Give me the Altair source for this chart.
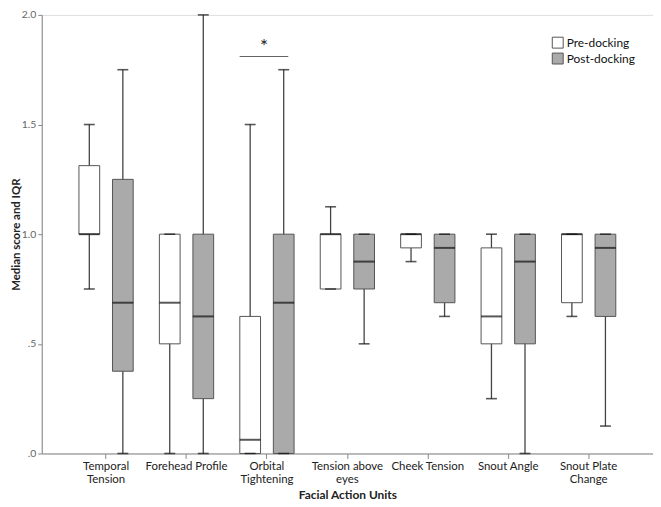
import altair as alt
import pandas as pd

categories = ["Temporal\nTension", "Forehead Profile", "Orbital\nTightening",
              "Tension above\neyes", "Cheek Tension", "Snout Angle", "Snout Plate\nChange"]
groups = ["Pre-docking", "Post-docking"]

pre_low = [0.75, 0.0, 0.0, 0.75, 0.875, 0.25, 0.625]
pre_q1 = [1.0, 0.5, 0.0, 0.75, 0.9375, 0.5, 0.6875]
pre_median = [1.0, 0.6875, 0.0625, 1.0, 1.0, 0.625, 1.0]
pre_q3 = [1.3125, 1.0, 0.625, 1.0, 1.0, 0.9375, 1.0]
pre_high = [1.5, 1.0, 1.5, 1.125, 1.0, 1.0, 1.0]

post_low = [0.0, 0.0, 0.0, 0.5, 0.625, 0.0, 0.125]
post_q1 = [0.375, 0.25, 0.0, 0.75, 0.6875, 0.5, 0.625]
post_median = [0.6875, 0.625, 0.6875, 0.875, 0.9375, 0.875, 0.9375]
post_q3 = [1.25, 1.0, 1.0, 1.0, 1.0, 1.0, 1.0]
post_high = [1.75, 2.0, 1.75, 1.0, 1.0, 1.0, 1.0]

sig_category = ["Orbital\nTightening"]
sig_level = [1.81]
sig_star_level = [1.82]
sig_text = ["*"]

rows = []
for i, c in enumerate(categories):
    rows.append(dict(category=c, group=groups[0], lo=pre_low[i], q1=pre_q1[i],
                     med=pre_median[i], q3=pre_q3[i], hi=pre_high[i]))
    rows.append(dict(category=c, group=groups[1], lo=post_low[i], q1=post_q1[i],
                     med=post_median[i], q3=post_q3[i], hi=post_high[i]))
df = pd.DataFrame(rows)
sig_df = pd.DataFrame(dict(category=sig_category, y=sig_level, ys=sig_star_level, t=sig_text))

FONT = "Lato"

x_enc = alt.X(
    "category:N", sort=categories,
    scale=alt.Scale(paddingOuter=0.3, paddingInner=0),
    axis=alt.Axis(
        title="Facial Action Units", labelAngle=0,
        labelExpr="split(datum.label, '\\n')",
        labelFontSize=11.5, labelColor="#222", labelLineHeight=13,
        labelPadding=2, tickSize=5, tickColor="#888", domainColor="#888",
        titleFontSize=12, titleFontWeight="bold", titleColor="#222",
        titlePadding=5,
    ),
)
xo_enc = alt.XOffset("group:N", sort=groups,
                     scale=alt.Scale(domain=groups, paddingInner=0.382, paddingOuter=0.39))
y_scale = alt.Scale(domain=[0, 2], nice=False)
y_axis = alt.Axis(
    title="Median score and IQR", values=[0, 0.5, 1.0, 1.5, 2.0],
    labelExpr="datum.value < 1 ? replace(format(datum.value, '.1f'), '0.', '.') : format(datum.value, '.1f')",
    labelFontSize=10.5, labelColor="#666", tickSize=4, tickColor="#888", domainColor="#888",
    grid=False, titleFontSize=11.5, titleFontWeight="bold", titleColor="#222",
    titleX=-22, titleBaseline="alphabetic", labelPadding=2,
)

base = alt.Chart(df)

whisker = base.mark_rule(color="#444", strokeWidth=1.3).encode(
    x=x_enc, xOffset=xo_enc,
    y=alt.Y("lo:Q", scale=y_scale, axis=y_axis), y2="hi:Q",
)

boxes = base.mark_bar(stroke="#555", strokeWidth=1).encode(
    x=x_enc, xOffset=xo_enc,
    y=alt.Y("q1:Q", scale=y_scale), y2="q3:Q",
    fill=alt.Fill("group:N", sort=groups,
                  scale=alt.Scale(domain=groups, range=["#ffffff", "#aaaaaa"]),
                  legend=alt.Legend(title=None, orient="none", legendX=514, legendY=22,
                                    symbolType="square", symbolSize=121,
                                    symbolStrokeColor="#555", symbolStrokeWidth=1,
                                    labelFontSize=12, labelColor="#111",
                                    rowPadding=0, labelOffset=3)),
)

median = base.mark_tick(orient="horizontal", size=21, thickness=2, color="#111").encode(
    x=x_enc, xOffset=xo_enc, y=alt.Y("med:Q", scale=y_scale),
)
cap_hi = base.mark_tick(orient="horizontal", size=11, thickness=1.6, color="#111").encode(
    x=x_enc, xOffset=xo_enc, y=alt.Y("hi:Q", scale=y_scale),
)
cap_lo = base.mark_tick(orient="horizontal", size=11, thickness=1.6, color="#111").encode(
    x=x_enc, xOffset=xo_enc, y=alt.Y("lo:Q", scale=y_scale),
)

sig_line = alt.Chart(sig_df).mark_tick(orient="horizontal", size=49, thickness=1,
                                       color="#222", xOffset=-3).encode(
    x=alt.X("category:N", sort=categories), y=alt.Y("y:Q", scale=y_scale),
)
sig_star = alt.Chart(sig_df).mark_text(fontSize=19, color="#222", baseline="bottom",
                                       dx=-3, dy=3, font=FONT).encode(
    x=alt.X("category:N", sort=categories), y=alt.Y("ys:Q", scale=y_scale), text="t:N",
)

chart = alt.layer(whisker, boxes, median, cap_hi, cap_lo, sig_line, sig_star).properties(
    width=616, height=442,
    autosize=alt.AutoSizeParams(type="none"),
    padding={"left": 34, "top": 5, "right": 0, "bottom": 52},
).configure_view(stroke=None).configure(font=FONT)

chart.save("out.html", embed_options={"renderer": "svg", "actions": False})
